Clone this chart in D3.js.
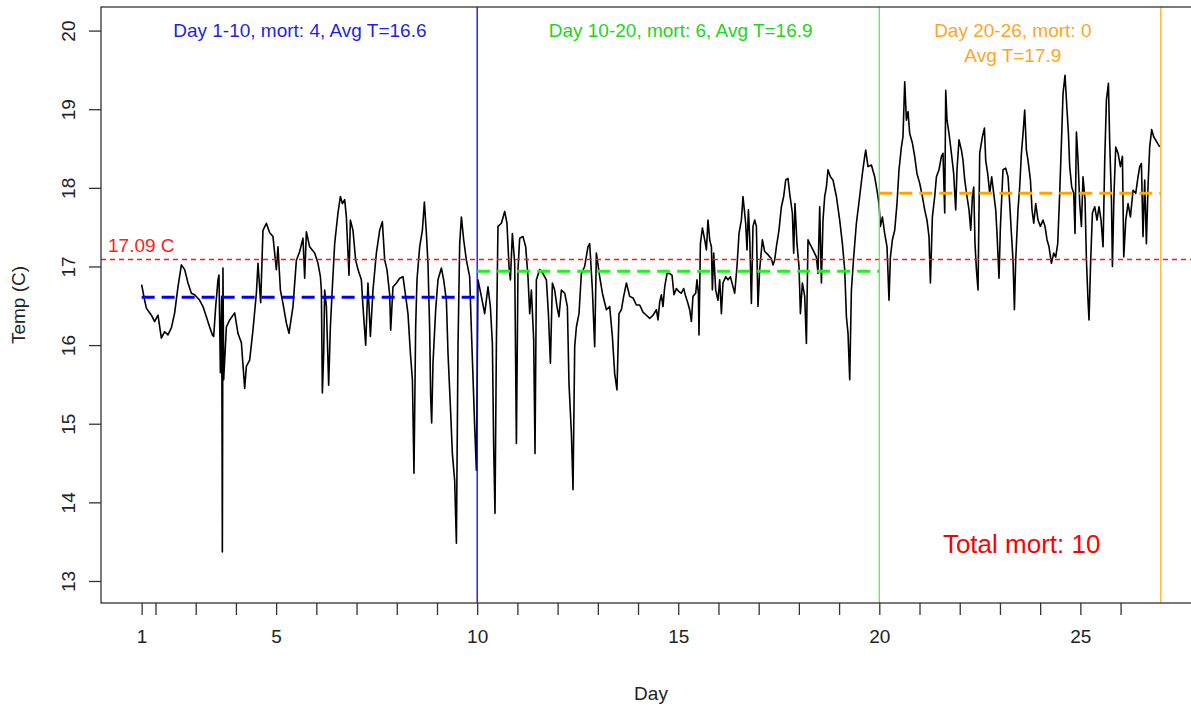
<!DOCTYPE html>
<html>
<head>
<meta charset="utf-8">
<script src="https://cdn.jsdelivr.net/npm/d3@7"></script>
<style>
  body { margin: 0; background: #fff; }
  svg { display: block; font-family: "Liberation Sans", Arial, sans-serif; }
</style>
</head>
<body>
<div id="chart"></div>
<script>
// --- Data: [day, temp C] ---
const readings = [
  [1.656,16.77],[1.730,16.57],[1.773,16.47],[1.897,16.38],[1.980,16.30],[2.062,16.38],[2.146,16.09],[2.228,16.17],
  [2.310,16.13],[2.395,16.22],[2.477,16.41],[2.559,16.74],[2.644,17.02],[2.726,16.96],[2.808,16.79],[2.892,16.66],
  [2.974,16.64],[3.099,16.57],[3.181,16.49],[3.265,16.36],[3.347,16.23],[3.415,16.13],[3.447,16.11],[3.497,16.49],
  [3.554,16.83],[3.579,16.89],[3.614,15.65],[3.646,16.62],[3.663,13.37],[3.678,16.98],[3.696,15.56],[3.763,16.23],
  [3.845,16.32],[3.969,16.41],[4.051,16.15],[4.136,16.03],[4.218,15.45],[4.260,15.73],[4.342,15.81],[4.424,16.19],
  [4.509,16.66],[4.549,17.04],[4.616,16.54],[4.673,17.46],[4.758,17.55],[4.840,17.43],[4.922,17.38],[5.006,16.96],
  [5.046,17.25],[5.106,16.70],[5.170,16.53],[5.255,16.28],[5.320,16.15],[5.419,16.49],[5.504,17.08],
  [5.586,17.19],[5.668,17.36],[5.710,16.85],[5.752,17.44],[5.834,17.25],[5.959,17.17],[6.041,17.04],[6.101,16.87],
  [6.125,16.70],[6.150,15.39],[6.183,15.90],[6.207,16.70],[6.250,16.49],[6.307,15.49],[6.349,16.23],[6.399,16.74],
  [6.456,17.29],[6.538,17.68],[6.598,17.89],[6.648,17.80],[6.705,17.85],[6.747,17.63],[6.812,16.89],[6.847,17.59],
  [6.911,17.46],[6.978,17.08],[7.036,16.96],[7.120,16.83],[7.160,16.49],[7.227,16.00],[7.284,16.79],[7.344,16.11],
  [7.409,16.70],[7.493,17.17],[7.575,17.46],[7.642,17.57],[7.700,17.08],[7.757,16.96],[7.824,16.64],[7.849,16.19],
  [7.906,16.74],[7.991,16.79],[8.073,16.85],[8.155,16.87],[8.222,16.62],[8.279,16.40],[8.339,15.90],[8.389,15.56],
  [8.428,14.37],[8.470,16.23],[8.503,16.83],[8.570,17.25],[8.637,17.46],[8.687,17.82],[8.737,17.42],[8.776,17.04],
  [8.819,16.19],[8.843,15.34],[8.868,15.01],[8.901,15.77],[8.968,16.45],[9.025,16.83],[9.110,16.98],[9.167,16.83],
  [9.234,16.57],[9.274,15.90],[9.334,15.22],[9.383,14.62],[9.440,14.28],[9.483,13.48],[9.523,15.98],[9.565,17.29],
  [9.607,17.63],[9.664,17.34],[9.731,17.08],
  [9.813,16.87],[9.856,16.19],[9.938,14.96],[9.980,14.41],[10.020,16.83],[10.104,16.62],[10.186,16.40],[10.269,16.74],
  [10.328,16.49],[10.378,16.02],[10.410,14.71],[10.443,13.86],[10.477,15.98],[10.517,17.51],[10.602,17.55],[10.684,17.70],
  [10.741,17.55],[10.791,17.00],[10.826,16.83],[10.875,17.42],[10.933,17.04],[10.975,14.75],[11.015,16.96],[11.057,17.36],
  [11.139,17.38],[11.206,17.25],[11.263,16.87],[11.306,16.40],[11.348,16.70],[11.405,16.07],[11.438,14.62],[11.472,16.83],
  [11.554,16.96],[11.636,16.91],[11.721,16.83],[11.771,16.40],[11.821,15.77],[11.870,16.79],[11.927,16.70],[11.985,16.49],
  [12.034,16.36],[12.094,16.70],[12.176,16.66],[12.243,16.49],[12.283,15.51],[12.343,14.88],[12.383,14.16],[12.425,15.98],
  [12.467,16.23],[12.532,16.40],[12.591,16.91],[12.673,17.00],[12.755,17.25],[12.798,17.29],[12.865,16.70],[12.922,15.98],
  [12.964,17.17],[13.046,16.87],[13.114,16.66],[13.213,16.45],[13.295,16.49],[13.362,16.11],[13.419,15.64],[13.476,15.43],
  [13.526,16.40],[13.586,16.45],[13.643,16.62],[13.711,16.79],[13.793,16.62],[13.875,16.60],[13.959,16.51],
  [14.041,16.51],[14.123,16.42],[14.208,16.38],[14.290,16.34],[14.372,16.38],[14.457,16.45],[14.497,16.32],[14.539,16.55],
  [14.581,16.64],[14.621,16.49],[14.663,16.74],[14.720,16.91],[14.787,16.91],[14.845,16.89],[14.894,16.64],[14.954,16.72],
  [15.018,16.68],[15.078,16.66],[15.135,16.72],[15.185,16.62],[15.242,16.53],[15.284,16.45],[15.327,16.30],[15.366,16.62],
  [15.434,16.66],[15.466,16.83],[15.501,16.66],[15.516,16.13],[15.551,17.29],[15.601,17.49],[15.658,17.34],[15.700,17.21],
  [15.740,17.59],[15.782,17.34],[15.825,17.25],[15.849,16.70],[15.882,17.17],[15.931,16.70],[15.988,16.57],[16.031,16.83],
  [16.073,16.40],[16.113,16.79],[16.180,16.87],[16.237,16.83],[16.297,16.87],[16.362,16.74],[16.404,16.66],[16.461,17.00],
  [16.511,17.42],[16.570,17.59],[16.610,17.89],[16.677,17.55],[16.710,17.21],[16.745,17.72],[16.777,17.38],[16.819,16.53],
  [16.859,17.51],[16.901,17.59],[16.943,17.51],[16.983,16.49],[17.025,16.96],[17.092,17.34],[17.150,17.19],[17.232,17.15],
  [17.316,17.10],[17.356,17.02],[17.398,17.08],[17.440,17.25],[17.505,17.46],[17.565,17.76],[17.622,17.89],[17.672,18.10],
  [17.729,18.12],[17.771,17.93],[17.838,17.68],[17.871,17.17],[17.903,17.80],[17.953,17.29],[18.003,17.00],[18.038,16.40],
  [18.087,16.79],[18.145,16.62],[18.187,16.02],[18.227,17.34],
  [18.269,17.29],[18.351,17.21],[18.436,17.12],[18.475,16.91],[18.518,17.76],[18.560,16.79],[18.600,17.59],[18.642,17.89],
  [18.684,18.01],[18.724,18.23],[18.784,18.14],[18.848,18.10],[18.933,17.89],[19.015,17.59],[19.082,17.29],[19.140,16.96],
  [19.182,16.36],[19.222,16.15],[19.264,15.56],[19.306,16.70],[19.363,17.12],[19.430,17.55],[19.512,17.89],[19.579,18.18],
  [19.637,18.40],[19.662,18.48],[19.719,18.27],[19.803,18.29],[19.885,18.14],[19.942,17.97],[19.992,17.80],[20.027,17.51],
  [20.077,17.63],[20.134,17.42],[20.192,17.25],[20.241,16.57],[20.276,17.12],[20.326,17.34],[20.383,17.46],[20.440,17.80],
  [20.490,18.23],[20.550,18.52],[20.589,18.65],[20.632,19.35],[20.674,18.86],[20.714,18.97],[20.756,18.69],[20.823,18.57],
  [20.880,18.40],[20.937,18.18],[21.004,18.06],[21.071,17.89],[21.129,17.72],[21.186,17.59],[21.236,17.38],[21.271,16.79],
  [21.320,17.63],[21.378,17.89],[21.420,18.14],[21.485,18.23],[21.545,18.40],[21.584,18.44],[21.627,17.68],[21.652,19.24],
  [21.684,18.86],[21.734,18.69],[21.793,18.44],[21.850,18.18],[21.900,17.72],[21.932,18.23],[21.982,18.61],[22.042,18.48],
  [22.082,18.35],[22.124,18.10],[22.181,17.89],[22.231,17.72],[22.273,17.46],[22.315,17.89],[22.348,18.01],[22.380,17.29],
  [22.415,16.96],[22.455,16.70],
  [22.497,18.44],[22.564,18.65],[22.614,18.76],[22.646,18.35],[22.696,18.18],[22.746,17.93],[22.795,18.14],[22.845,17.93],
  [22.895,17.72],[22.927,17.42],[22.977,16.85],[23.012,17.51],[23.076,18.23],[23.143,18.25],[23.201,18.14],[23.243,17.80],
  [23.285,17.42],[23.325,17.08],[23.360,16.45],[23.392,17.08],[23.449,17.72],[23.491,18.01],[23.534,18.44],[23.574,18.69],
  [23.616,18.99],[23.658,18.48],[23.698,18.35],[23.758,18.10],[23.798,17.72],[23.840,17.55],[23.890,17.80],[23.947,17.59],
  [24.006,17.51],[24.071,17.59],[24.121,17.51],[24.171,17.34],[24.220,17.25],[24.280,17.04],[24.337,17.17],[24.387,17.12],
  [24.437,17.29],[24.486,17.93],[24.529,18.57],[24.569,19.20],[24.618,19.43],[24.668,18.99],[24.703,18.69],[24.735,18.27],
  [24.785,18.01],[24.835,17.93],[24.867,17.42],[24.902,18.71],[24.942,18.35],[24.984,17.80],[25.026,17.51],[25.066,18.14],
  [25.116,17.85],[25.151,17.08],[25.190,16.57],[25.215,16.32],[25.257,17.08],[25.300,17.68],[25.357,17.76],[25.414,17.59],
  [25.464,17.76],[25.514,17.59],[25.564,17.25],[25.606,18.35],[25.648,19.12],[25.698,19.33],[25.730,18.57],[25.773,17.85],
  [25.797,17.00],[25.837,17.93],[25.880,18.52],[25.937,18.44],[25.996,18.27],[26.046,18.40],[26.079,17.12],[26.129,17.59],
  [26.186,17.80],[26.245,17.63],[26.310,17.97],[26.377,17.93],[26.434,18.14],[26.476,18.27],[26.518,18.31],[26.558,17.38],
  [26.600,18.10],[26.642,17.29],[26.682,18.01],[26.724,18.52],[26.774,18.74],[26.824,18.65],[26.891,18.59],[26.973,18.52]
];

// period summary
const periodStart = [1.656, 10, 20];
const periodEnd = [10, 20, 27];
const periodMean = [16.61, 16.94, 17.93];
const periodText = [
  ["Day 1-10, mort: 4, Avg T=16.6"],
  ["Day 10-20, mort: 6, Avg T=16.9"],
  ["Day 20-26, mort: 0", "Avg T=17.9"]
];
const overallMean = 17.09;
const overallText = "17.09 C";
const totalText = "Total mort: 10";

// axis ticks
const xTicks = [1.656, 2, 3, 4, 5, 6, 7, 8, 9, 10, 11, 12, 13, 14, 15, 16, 17, 18, 19, 20, 21, 22, 23, 24, 25, 26];
const xTickLabels = { 1.656: "1", 5: "5", 10: "10", 15: "15", 20: "20", 25: "25" };
const yTicks = [13, 14, 15, 16, 17, 18, 19, 20];

// --- styles ---
const periodLine = ["#0000ff", "#55ee55", "#ffb030"];
const periodDash = ["#0000ff", "#22ee22", "#ffa500"];
const periodInk = ["#1f1fe8", "#22d422", "#ffa51f"];

// --- sizing ---
const width = 1191, height = 709;
const plot = { left: 101, right: 1201, top: 7, bottom: 603 };

const x = d3.scaleLinear().domain([0.645, 28.0]).range([plot.left, plot.right]);
const y = d3.scaleLinear().domain([12.72, 20.30]).range([plot.bottom, plot.top]);

const svg = d3.select("#chart").append("svg")
  .attr("width", width)
  .attr("height", height);

// temperature trace
const line = d3.line().x(d => x(d[0])).y(d => y(d[1]));
svg.append("path")
  .datum(readings)
  .attr("fill", "none")
  .attr("stroke", "#000")
  .attr("stroke-width", 1.6)
  .attr("stroke-linejoin", "round")
  .attr("d", line);

// overall mean
svg.append("line")
  .attr("x1", plot.left).attr("x2", plot.right)
  .attr("y1", y(overallMean)).attr("y2", y(overallMean))
  .attr("stroke", "#ff1a1a")
  .attr("stroke-width", 1.5)
  .attr("stroke-dasharray", "5,4");

svg.append("text")
  .attr("x", x(0.82))
  .attr("y", y(overallMean) - 7)
  .attr("fill", "#ff2020")
  .style("font-size", "19px")
  .text(overallText);

// period boundaries
svg.selectAll(".period-edge")
  .data(periodEnd)
  .enter().append("line")
  .attr("class", "period-edge")
  .attr("x1", d => x(d)).attr("x2", d => x(d))
  .attr("y1", plot.top).attr("y2", plot.bottom)
  .attr("stroke", (d, i) => periodLine[i])
  .attr("stroke-width", 1.3);

// period means
svg.selectAll(".period-mean")
  .data(periodMean)
  .enter().append("line")
  .attr("class", "period-mean")
  .attr("x1", (d, i) => x(periodStart[i]))
  .attr("x2", (d, i) => x(periodEnd[i]))
  .attr("y1", d => y(d)).attr("y2", d => y(d))
  .attr("stroke", (d, i) => periodDash[i])
  .attr("stroke-width", 3)
  .attr("stroke-dasharray", "13,7");

// period labels
const labelDay = [5.59, 15.06, 23.32];
const labelTemp = [19.92, 19.604];
periodText.forEach((lines, i) => {
  lines.forEach((t, j) => {
    svg.append("text")
      .attr("x", x(labelDay[i]))
      .attr("y", y(labelTemp[j]))
      .attr("text-anchor", "middle")
      .attr("fill", periodInk[i])
      .style("font-size", "19px")
      .text(t);
  });
});

svg.append("text")
  .attr("x", x(23.54))
  .attr("y", y(13.36))
  .attr("text-anchor", "middle")
  .attr("fill", "#ff0000")
  .style("font-size", "26px")
  .text(totalText);

// box
svg.append("rect")
  .attr("x", plot.left).attr("y", plot.top)
  .attr("width", plot.right - plot.left)
  .attr("height", plot.bottom - plot.top)
  .attr("fill", "none")
  .attr("stroke", "#333")
  .attr("stroke-width", 1.3);

// x axis
const xAxis = svg.append("g")
  .attr("transform", `translate(0,${plot.bottom})`)
  .call(d3.axisBottom(x)
    .tickValues(xTicks)
    .tickSize(12)
    .tickPadding(15)
    .tickFormat(d => xTickLabels[d] || ""));
xAxis.select(".domain").remove();
xAxis.selectAll(".tick line").attr("stroke", "#333").attr("stroke-width", 1.3);
xAxis.selectAll(".tick text")
  .attr("fill", "#222")
  .style("font-size", "19px")
  .style("font-family", "'Liberation Sans', Arial, sans-serif");

// y axis
const yAxis = svg.append("g")
  .attr("transform", `translate(${plot.left},0)`)
  .call(d3.axisLeft(y).tickValues(yTicks).tickSize(12));
yAxis.select(".domain").remove();
yAxis.selectAll(".tick line").attr("stroke", "#333").attr("stroke-width", 1.3);
yAxis.selectAll(".tick text")
  .attr("transform", "rotate(-90)")
  .attr("x", 0).attr("y", -26).attr("dy", 0)
  .attr("text-anchor", "middle")
  .attr("fill", "#222")
  .style("font-size", "19px")
  .style("font-family", "'Liberation Sans', Arial, sans-serif");

// axis titles
svg.append("text")
  .attr("x", (plot.left + plot.right) / 2)
  .attr("y", 700)
  .attr("text-anchor", "middle")
  .attr("fill", "#222")
  .style("font-size", "19px")
  .text("Day");

svg.append("text")
  .attr("transform", `translate(25,${(plot.top + plot.bottom) / 2}) rotate(-90)`)
  .attr("text-anchor", "middle")
  .attr("fill", "#222")
  .style("font-size", "19px")
  .text("Temp (C)");
</script>
</body>
</html>
